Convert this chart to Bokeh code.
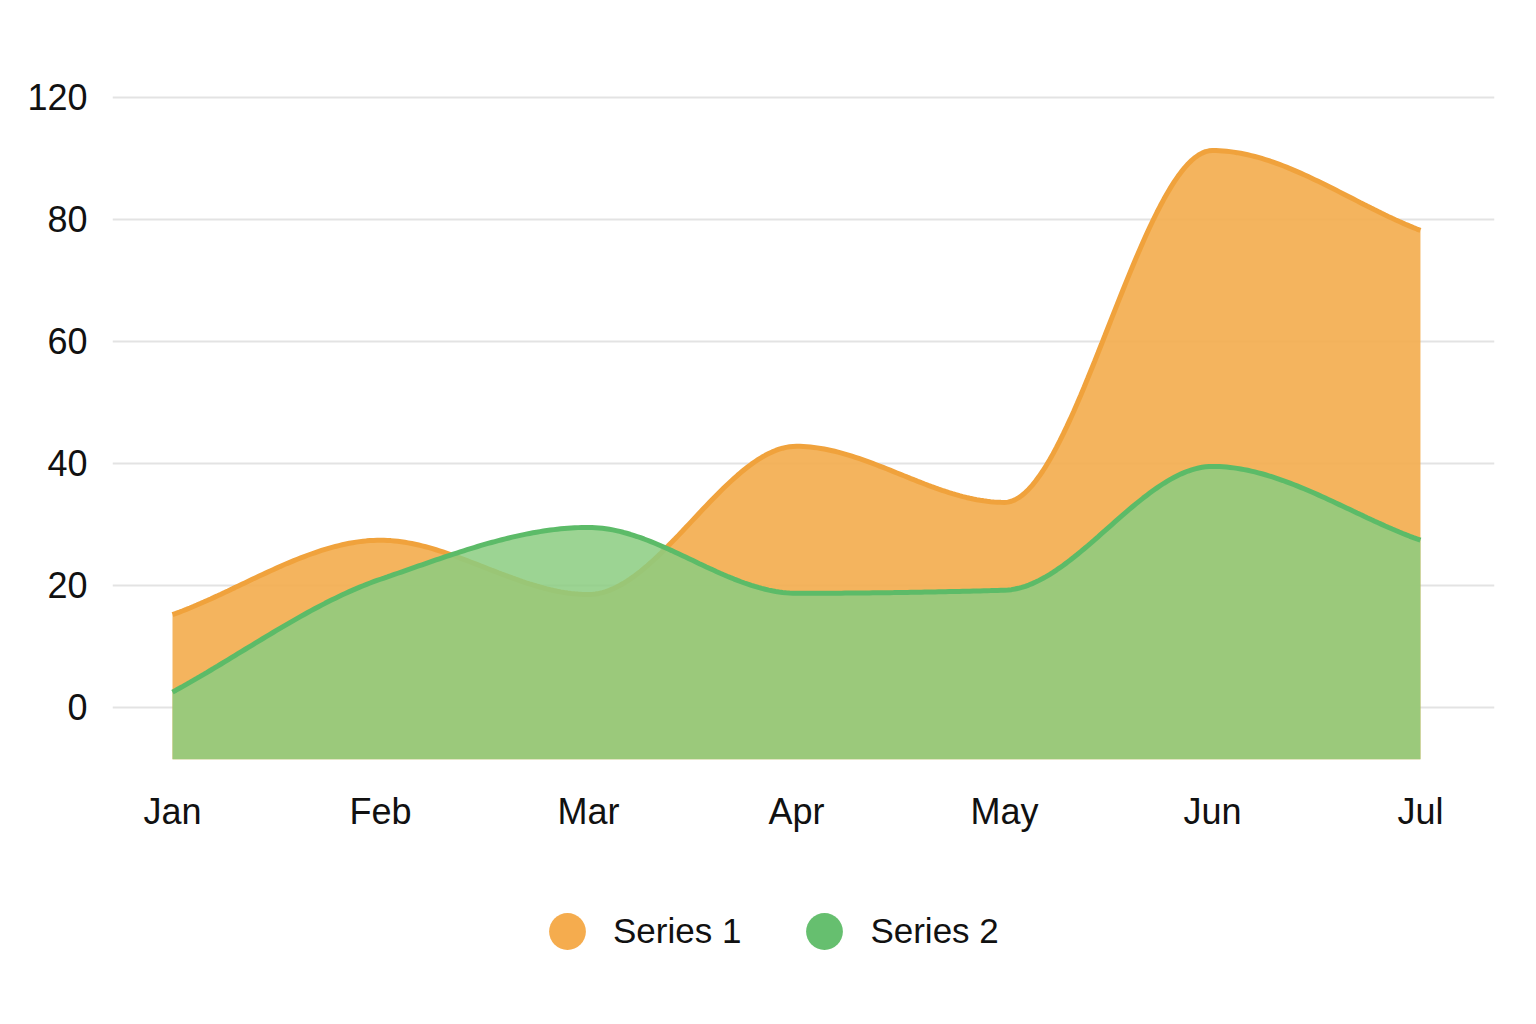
import numpy as np
from bokeh.plotting import figure
from bokeh.layouts import column
from bokeh.models import Range1d, FixedTicker, Legend, LegendItem
from bokeh.embed import file_html
from bokeh.resources import INLINE

# data
months = ["Jan", "Feb", "Mar", "Apr", "May", "Jun", "Jul"]
series1 = [15.2, 27.4, 18.5, 42.8, 33.6, 91.3, 78.2]
series2 = [2.5, 21.0, 29.5, 18.7, 19.2, 39.5, 27.4]
y_ticks = [0, 20, 40, 60, 80, 100]
y_tick_labels = ["0", "20", "40", "60", "80", "120"]
series_names = ["Series 1", "Series 2"]

FONT = "Liberation Sans"
ORANGE_FILL, ORANGE_LINE, ORANGE_DOT = "#F3AC4C", "#F0A23C", "#F5AC4E"
GREEN_FILL, GREEN_LINE, GREEN_DOT = "#8BCD80", "#5CBB68", "#66BF6F"
BASE = -8.5  # areas are filled down to here


def smooth(ys, n=60):
    # monotone cubic hermite between the monthly points (curve drawing only)
    x = np.arange(len(ys), dtype=float)
    y = np.asarray(ys, dtype=float)
    d = np.diff(y)
    m = np.zeros_like(y)
    for i in range(1, len(y) - 1):
        if d[i - 1] * d[i] > 0:
            m[i] = 2.0 / (1.0 / d[i - 1] + 1.0 / d[i])
    m[0] = d[0]
    m[-1] = d[-1]
    xs, out = [], []
    for i in range(len(y) - 1):
        t = np.linspace(0, 1, n, endpoint=(i == len(y) - 2))
        h00 = 2 * t**3 - 3 * t**2 + 1
        h10 = t**3 - 2 * t**2 + t
        h01 = -2 * t**3 + 3 * t**2
        h11 = t**3 - t**2
        xs.append(x[i] + t)
        out.append(h00 * y[i] + h10 * m[i] + h01 * y[i + 1] + h11 * m[i + 1])
    return np.concatenate(xs), np.concatenate(out)


p = figure(width=1520, height=860, output_backend="svg", toolbar_location=None,
           x_range=Range1d(-0.2885, 6.356), y_range=Range1d(-12, 110),
           min_border_left=112, min_border_right=26, min_border_top=36,
           min_border_bottom=80)
p.outline_line_color = None

x1, y1 = smooth(series1)
x2, y2 = smooth(series2)

p.varea(x=x1, y1=BASE, y2=y1, fill_color=ORANGE_FILL, fill_alpha=0.9)
p.line(x1, y1, line_color=ORANGE_LINE, line_width=5)
p.varea(x=x2, y1=BASE, y2=y2, fill_color=GREEN_FILL, fill_alpha=0.85)
p.line(x2, y2, line_color=GREEN_LINE, line_width=5)

# axes
p.xaxis.ticker = FixedTicker(ticks=list(range(len(months))))
p.xaxis.major_label_overrides = {i: m for i, m in enumerate(months)}
p.yaxis.ticker = FixedTicker(ticks=y_ticks)
p.yaxis.major_label_overrides = dict(zip(y_ticks, y_tick_labels))
for ax in (p.xaxis, p.yaxis):
    ax.axis_line_color = None
    ax.major_tick_line_color = None
    ax.minor_tick_line_color = None
    ax.major_tick_out = 0
    ax.major_tick_in = 0
    ax.major_label_text_font = FONT
    ax.major_label_text_font_size = "36px"
    ax.major_label_text_color = "#111111"
p.xaxis.major_label_standoff = 10
p.yaxis.major_label_standoff = 25

p.xgrid.grid_line_color = None
p.ygrid.grid_line_color = "#E3E3E3"
p.ygrid.grid_line_width = 2

# legend strip under the chart; its markers have size 0 so only the
# legend swatches (sized by the legend box) are visible
leg = figure(width=1520, height=140, output_backend="svg", toolbar_location=None,
             x_axis_location=None, y_axis_location=None,
             min_border=0, outline_line_color=None)
leg.grid.grid_line_color = None
idx = list(range(len(months)))
r1 = leg.scatter(idx, series1, marker="circle", size=0,
                 fill_color=ORANGE_DOT, line_color=None)
r2 = leg.scatter(idx, series2, marker="circle", size=0,
                 fill_color=GREEN_DOT, line_color=None)
legend = Legend(items=[LegendItem(label=series_names[0], renderers=[r1]),
                       LegendItem(label=series_names[1], renderers=[r2])],
                orientation="horizontal", location=(409, 23),
                glyph_width=92, glyph_height=92, label_standoff=0, spacing=37,
                padding=0, margin=0, border_line_color=None,
                background_fill_alpha=0,
                label_text_font=FONT, label_text_font_size="35px",
                label_text_color="#111111")
leg.add_layout(legend)

open("out.html", "w").write(file_html(column(p, leg), INLINE))
